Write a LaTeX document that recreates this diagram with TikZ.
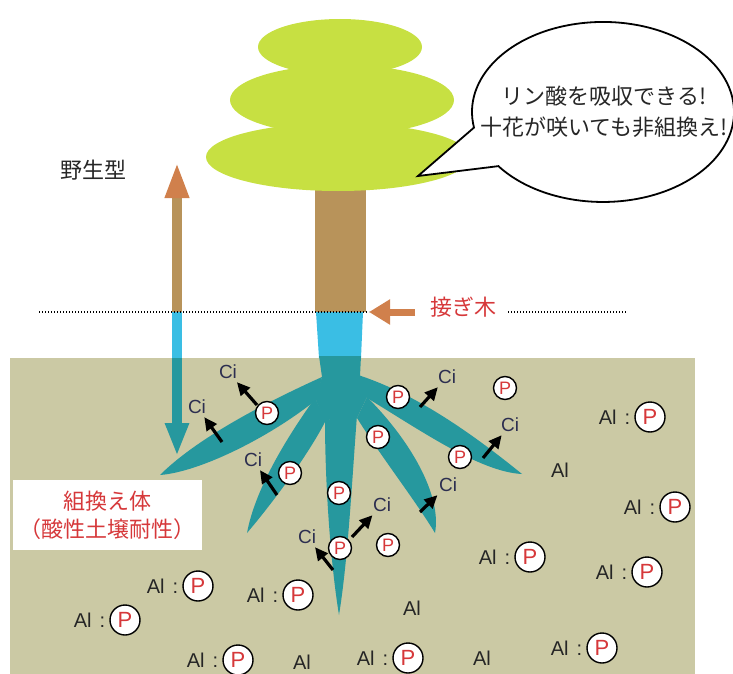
\documentclass[tikz,border=0pt]{standalone}
\usepackage{fontspec}
\setmainfont{Liberation Sans}
\newfontfamily\jpfont{Noto Sans CJK JP}
\usetikzlibrary{positioning,arrows.meta}

\definecolor{leafgreen}{RGB}{199,224,66}
\definecolor{trunkbrown}{RGB}{184,147,90}
\definecolor{stemcyan}{RGB}{58,190,228}
\definecolor{rootteal}{RGB}{38,152,158}
\definecolor{soil}{RGB}{203,201,164}
\definecolor{pointer}{RGB}{208,128,76}
\definecolor{labelred}{RGB}{214,56,58}
\definecolor{cinavy}{RGB}{44,46,80}

\tikzset{
  pmark/.style={circle,draw=black,line width=1.4pt,fill=white,inner sep=0pt,
    minimum size=23pt,text=labelred,font=\fontsize{18}{18}\selectfont},
  pmarkbig/.style={pmark,minimum size=30pt,font=\fontsize{22}{22}\selectfont},
  cilabel/.style={text=cinavy,inner sep=3pt,font=\fontsize{19}{19}\selectfont},
  allabel/.style={inner sep=1pt,text=black!85,font=\fontsize{20}{20}\selectfont},
  ciarrow/.style={line width=3.2pt,-{Triangle[length=13pt,width=12pt]}},
  groundline/.style={line width=1.3pt,dash pattern=on 1.3pt off 1.7pt},
  jplabel/.style={align=center,text=black!85,font=\jpfont\fontsize{22}{31}\selectfont},
  gmbox/.style={fill=white,minimum width=189pt,minimum height=70pt,align=center,
    text=labelred,font=\jpfont\fontsize{22}{28}\selectfont},
}

\begin{document}
\begin{tikzpicture}[x=1pt,y=-1pt]
  \useasboundingbox (0,0) rectangle (733,674);

  % soil
  \fill[soil] (10,358) rectangle (695,674);

  % stock below the graft
  \fill[stemcyan] (316,312) -- (363,312) -- (361,358) -- (319,358) -- cycle;
  \fill[rootteal] (319,356) -- (361,356) -- (360,376) -- (367,397) -- (357,418)
    -- (325,420) -- (315,398) -- (322,377) -- cycle;
  \fill[rootteal] (322,377) .. controls (260,405) and (195,440) .. (160,475)
    .. controls (200,472) and (270,437) .. (316,400) -- cycle;
  \fill[rootteal] (315,398) .. controls (285,440) and (255,490) .. (247,533)
    .. controls (275,500) and (310,452) .. (326,420) -- cycle;
  \fill[rootteal] (325,420) .. controls (325,480) and (330,560) .. (339,615)
    .. controls (348,560) and (352,480) .. (357,415) -- cycle;
  \fill[rootteal] (357,418) .. controls (380,455) and (415,500) .. (435,533)
    .. controls (442,495) and (410,440) .. (367,397) -- cycle;
  \fill[rootteal] (358,375) .. controls (420,395) and (480,440) .. (522,474)
    .. controls (480,472) and (420,430) .. (367,398) -- cycle;

  % scion
  \fill[trunkbrown] (315,185) rectangle (366,312);
  \fill[leafgreen] (338,157) ellipse [x radius=132, y radius=34];
  \fill[leafgreen] (342,100) ellipse [x radius=112, y radius=35];
  \fill[leafgreen] (340,47) ellipse [x radius=82, y radius=28];

  % wild type up, transgenic down
  \coordinate (wildbase) at (177,312);
  \coordinate (wildtip) at (177,162);
  \coordinate (gmtop) at (177,358);
  \coordinate (gmtip) at (177,456);
  \draw[trunkbrown,line width=10pt,
    -{Triangle[length=36pt,width=22pt,color=pointer,fill=pointer]}] (wildbase) -- (wildtip);
  \fill[stemcyan] (172,312) rectangle (182,358);
  \draw[rootteal,line width=10pt,-{Triangle[length=33pt,width=22pt]}] (gmtop) -- (gmtip);
  \node[jplabel] (wild) at (93,170) {野生型};

  % graft line
  \coordinate (groundL) at (39,312);
  \coordinate (graftend) at (369,312);
  \coordinate (graftstart) at (415,312);
  \coordinate (groundR1) at (508,312);
  \coordinate (groundR2) at (627,312);
  \draw[groundline] (groundL) -- (graftend);
  \draw[groundline] (groundR1) -- (groundR2);
  \draw[pointer,line width=7pt,-{Triangle[length=21pt,width=24pt]}] (graftstart) -- (graftend);
  \node[jplabel,text=labelred,font=\jpfont\fontsize{22}{22}\selectfont] (graft) at (463,307) {接ぎ木};

  % speech bubble
  \draw[line width=1.8pt,fill=white] (418,176) -- (474,127.6)
    arc[start angle=170, end angle=503, x radius=131, y radius=90] -- cycle;
  \node[jplabel] (say) at (604,112) {リン酸を吸収できる!\\十花が咲いても非組換え!};

  \node[gmbox] (gm) at (107.5,515) {組換え体\\（酸性土壌耐性）};

  % citrate released by the roots
  \foreach \cx/\cy/\tx/\ty [count=\i] in {228/372/257/405, 197/407/222/442,
      253/460/277/495, 447/377/420/407, 510/425/483/458, 448/485/420/512,
      382/505/352/537, 307/537/333/570} {
    \node[cilabel] (ci\i) at (\cx,\cy) {Ci};
    \coordinate (cs\i) at (\tx,\ty);
    \draw[ciarrow] (cs\i) -- (ci\i);
  }

  % free phosphate near the roots
  \foreach \px/\py [count=\i] in {267/413, 290/473, 339/493, 340/548, 388/545,
      398/397, 505/388, 378/437, 460/457}
    \node[pmark] (p\i) at (\px,\py) {P};

  % phosphate bound to aluminium
  \foreach \px/\py [count=\i] in {198/586, 298/595, 125/620, 238/660, 408/658,
      530/557, 650/417, 675/507, 647/572, 602/648} {
    \node[pmarkbig] (pa\i) at (\px,\py) {P};
    \node[allabel,left=3pt of pa\i] (al\i) {Al\hspace{8pt}:};
  }
  \foreach \ax/\ay [count=\i] in {560/470, 412/608, 302/662, 482/658}
    \node[allabel] (alone\i) at (\ax,\ay) {Al};
\end{tikzpicture}
\end{document}
